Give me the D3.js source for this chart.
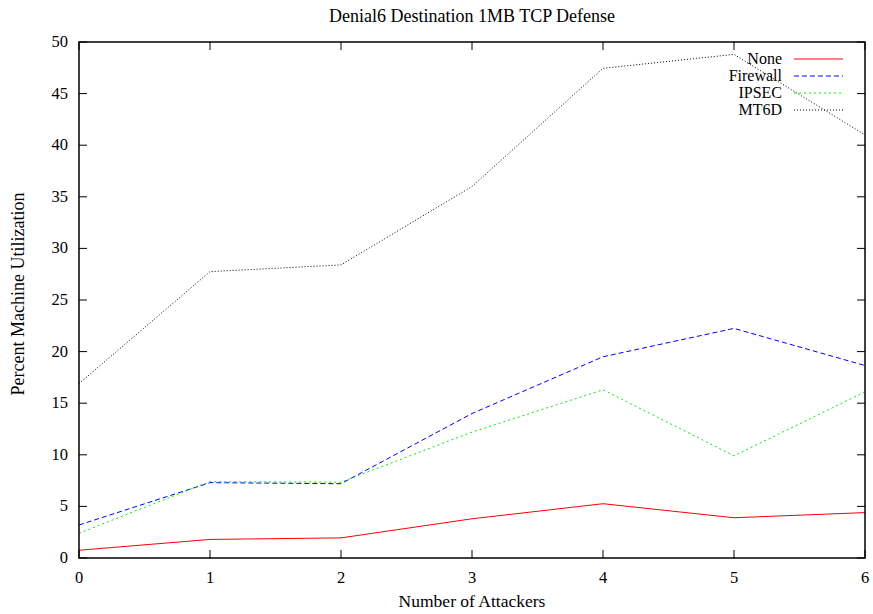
<!DOCTYPE html>
<html>
<head>
<meta charset="utf-8">
<script src="https://cdn.jsdelivr.net/npm/d3@7"></script>
<style>
  body { margin: 0; background: #fff; }
  svg text { font-family: "Times New Roman", Times, "Liberation Serif", "DejaVu Serif", serif; fill: #000; }
</style>
</head>
<body>
<div id="chart"></div>
<script>
// data
const attackers = [0, 1, 2, 3, 4, 5, 6];
const noneVals = [0.75, 1.8, 1.95, 3.8, 5.26, 3.9, 4.4];
const firewallVals = [3.2, 7.3, 7.2, 14.0, 19.5, 22.25, 18.65];
const ipsecVals = [2.4, 7.4, 7.35, 12.2, 16.3, 9.9, 16.1];
const mt6dVals = [16.9, 27.75, 28.4, 36.0, 47.45, 48.8, 41.0];
const yTicks = [0, 5, 10, 15, 20, 25, 30, 35, 40, 45, 50];

const seriesNames = ["None", "Firewall", "IPSEC", "MT6D"];
const seriesVals = [noneVals, firewallVals, ipsecVals, mt6dVals];
const colors = ["#ff0000", "#0000ff", "#00ee00", "#000000"];
const dashes = [null, "5,3", "2,3", "1,2"];

function LineChart({
    target,
    width = 873,
    height = 614,
    marginTop = 42,
    marginRight = 8,
    marginBottom = 56,
    marginLeft = 79,
} = {}) {
    const svg = d3.select(target)
        .append("svg")
        .attr("width", width)
        .attr("height", height);

    const iw = width - marginLeft - marginRight;
    const ih = height - marginTop - marginBottom;

    const x = d3.scaleLinear().domain([0, 6]).range([marginLeft, marginLeft + iw]);
    const y = d3.scaleLinear().domain([0, 50]).range([marginTop + ih, marginTop]);

    // title
    svg.append("text")
        .attr("x", (x(0) + x(6)) / 2).attr("y", 22)
        .attr("text-anchor", "middle")
        .style("font-size", "18px")
        .text("Denial6 Destination 1MB TCP Defense");

    // ticks inward, mirrored like gnuplot
    const tick = 8;
    const axes = svg.append("g").attr("stroke", "#000").attr("stroke-width", 1);
    yTicks.forEach(v => {
        axes.append("line").attr("x1", x(0)).attr("x2", x(0) + tick).attr("y1", y(v)).attr("y2", y(v));
        axes.append("line").attr("x1", x(6)).attr("x2", x(6) - tick).attr("y1", y(v)).attr("y2", y(v));
    });
    attackers.forEach(v => {
        axes.append("line").attr("x1", x(v)).attr("x2", x(v)).attr("y1", y(0)).attr("y2", y(0) - tick);
        axes.append("line").attr("x1", x(v)).attr("x2", x(v)).attr("y1", y(50)).attr("y2", y(50) + tick);
    });

    svg.selectAll(".ylab")
        .data(yTicks).enter().append("text")
        .attr("x", x(0) - 11).attr("y", d => y(d) + 5)
        .attr("text-anchor", "end")
        .style("font-size", "16.5px")
        .text(d => d);

    svg.selectAll(".xlab")
        .data(attackers).enter().append("text")
        .attr("x", d => x(d)).attr("y", y(0) + 25)
        .attr("text-anchor", "middle")
        .style("font-size", "16.5px")
        .text(d => d);

    svg.append("text")
        .attr("x", (x(0) + x(6)) / 2).attr("y", 607)
        .attr("text-anchor", "middle")
        .style("font-size", "17.5px")
        .text("Number of Attackers");

    svg.append("text")
        .attr("transform", `translate(24,${(y(0) + y(50)) / 2 - 6}) rotate(-90)`)
        .attr("text-anchor", "middle")
        .style("font-size", "18px")
        .text("Percent Machine Utilization");

    // lines
    const line = d3.line().x((d, i) => x(attackers[i])).y(d => y(d));
    seriesVals.forEach((vals, k) => {
        svg.append("path")
            .datum(vals)
            .attr("fill", "none")
            .attr("stroke", colors[k])
            .attr("stroke-width", 1)
            .attr("stroke-dasharray", dashes[k])
            .attr("d", line);
    });

    // legend
    const leg = svg.append("g");
    seriesNames.forEach((name, k) => {
        const ly = 59 + k * 17;
        leg.append("text")
            .attr("x", 782).attr("y", ly + 5)
            .attr("text-anchor", "end")
            .style("font-size", "16px")
            .text(name);
        leg.append("line")
            .attr("x1", 794).attr("x2", 843).attr("y1", ly).attr("y2", ly)
            .attr("stroke", colors[k])
            .attr("stroke-width", 1)
            .attr("stroke-dasharray", dashes[k]);
    });

    // frame
    svg.append("rect")
        .attr("x", x(0)).attr("y", y(50))
        .attr("width", x(6) - x(0)).attr("height", y(0) - y(50))
        .attr("fill", "none")
        .attr("stroke", "#000")
        .attr("stroke-width", 1.5);
}

LineChart({ target: "#chart" });
</script>
</body>
</html>
